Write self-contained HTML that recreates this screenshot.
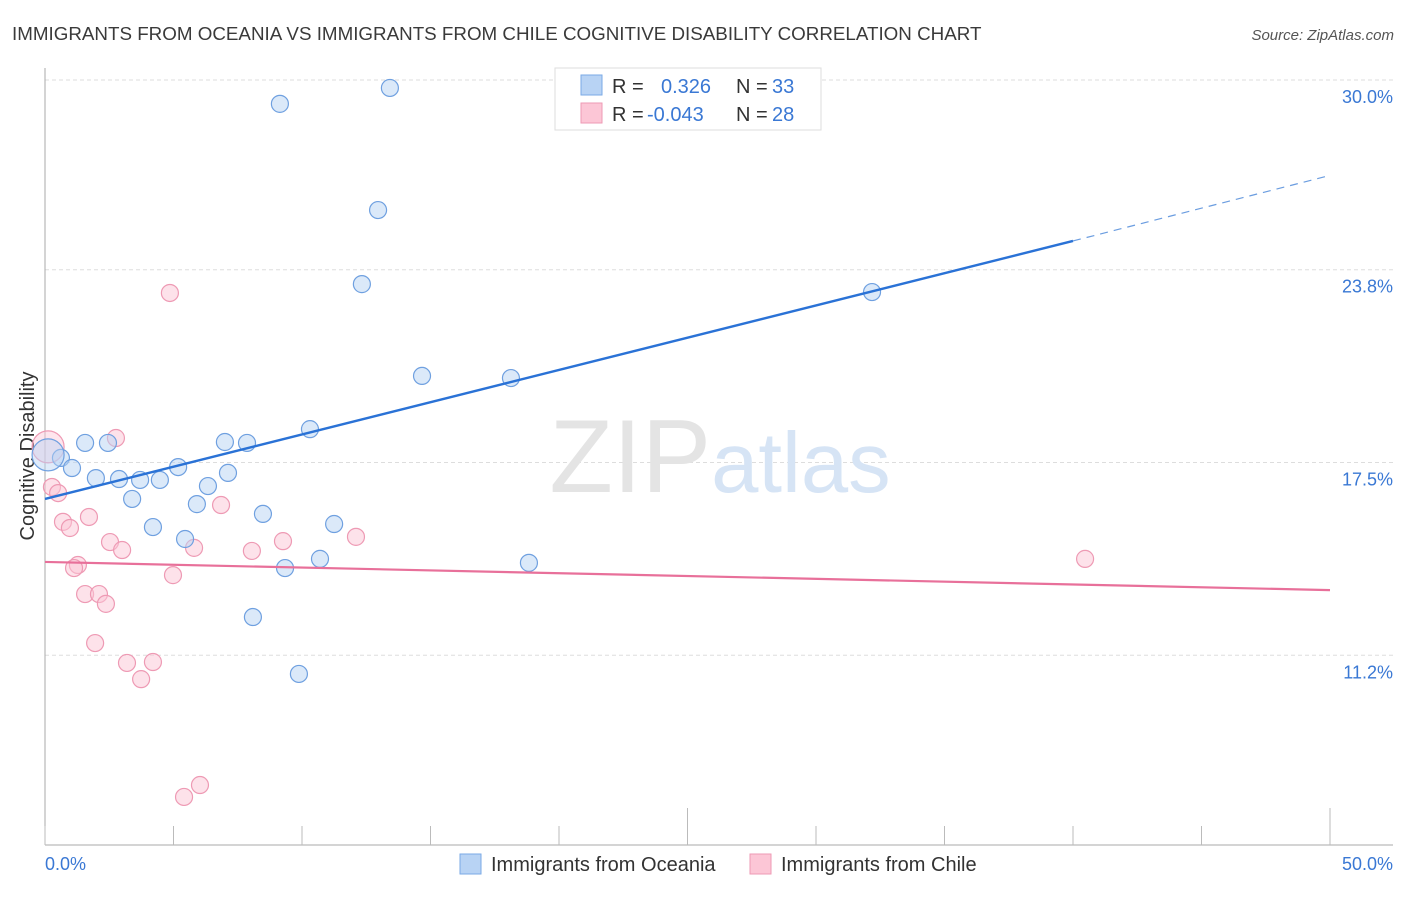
<!DOCTYPE html>
<html><head><meta charset="utf-8"><style>
body{margin:0;background:#fff;font-family:"Liberation Sans",sans-serif}
svg text{font-family:"Liberation Sans",sans-serif}
</style></head><body>
<svg width="1406" height="892" xmlns="http://www.w3.org/2000/svg">
<text x="12" y="40" font-size="18.8" fill="#3a3a3a">IMMIGRANTS FROM OCEANIA VS IMMIGRANTS FROM CHILE COGNITIVE DISABILITY CORRELATION CHART</text>
<text x="1394" y="40" font-size="15" fill="#555" font-style="italic" text-anchor="end">Source: ZipAtlas.com</text>
<g id="grid"></g>
<text x="720" y="492" font-size="104" text-anchor="middle" fill="#e4e4e4" font-family="Liberation Serif">ZIP<tspan fill="#d6e4f5" font-family="Liberation Sans" font-size="85">atlas</tspan></text>
<text transform="translate(34,456) rotate(-90)" font-size="20" fill="#333" text-anchor="middle">Cognitive Disability</text>
<g id="marks"></g>
<g>
<rect x="555" y="68" width="266" height="62" fill="#fff" stroke="#ddd"/>
<rect x="581" y="75" width="21" height="20" fill="#b8d3f4" stroke="#7aa9e6"/>
<rect x="581" y="103" width="21" height="20" fill="#fcc6d6" stroke="#ee9ab4"/>
<text x="612" y="93" font-size="20" fill="#333">R =</text>
<text x="661" y="93" font-size="20" fill="#3a78d4">0.326</text>
<text x="736" y="93" font-size="20" fill="#333">N =</text>
<text x="772" y="93" font-size="20" fill="#3a78d4">33</text>
<text x="612" y="121" font-size="20" fill="#333">R =</text>
<text x="647" y="121" font-size="20" fill="#3a78d4">-0.043</text>
<text x="736" y="121" font-size="20" fill="#333">N =</text>
<text x="772" y="121" font-size="20" fill="#3a78d4">28</text>
</g>
<g>
<rect x="460" y="854" width="21" height="20" fill="#b8d3f4" stroke="#7aa9e6"/>
<text x="491" y="871" font-size="20" fill="#333">Immigrants from Oceania</text>
<rect x="750" y="854" width="21" height="20" fill="#fcc6d6" stroke="#ee9ab4"/>
<text x="781" y="871" font-size="20" fill="#333">Immigrants from Chile</text>
</g>
</svg>
<script>
const yTicks=[30.0,23.8,17.5,11.2];
const yTickLabels=["30.0%","23.8%","17.5%","11.2%"];
const xTicks=[0,5,10,15,20,25,30,35,40,45,50];
const oceaniaX=[9.14,13.42,12.96,12.33,32.18,14.67,18.13,10.31,7.00,7.86,1.56,2.45,0.62,1.05,5.18,7.12,1.98,2.88,3.70,4.47,6.34,3.39,5.91,8.48,4.20,11.25,5.45,9.34,10.70,18.83,8.09,9.88,0.12];
const oceaniaY=[29.22,29.74,25.75,23.33,23.07,20.33,20.26,18.59,18.17,18.14,18.14,18.14,17.65,17.32,17.35,17.16,16.99,16.96,16.93,16.93,16.73,16.31,16.14,15.82,15.39,15.49,15.00,14.05,14.35,14.22,12.45,10.59,17.75];
const chileX=[4.86,2.76,0.12,0.27,0.51,1.71,0.70,0.97,6.85,2.53,3.00,5.80,8.05,9.26,12.10,1.28,1.13,4.98,1.56,2.10,2.37,1.95,3.19,4.20,3.74,6.03,5.41,40.47];
const chileY=[23.04,18.30,18.01,16.70,16.50,15.72,15.56,15.36,16.11,14.90,14.64,14.71,14.61,14.93,15.07,14.15,14.05,13.82,13.20,13.20,12.88,11.60,10.95,10.98,10.42,6.96,6.57,14.35];
const oceaniaTrend=[16.31,24.74,26.86];
const chileTrend=[14.25,13.33];
const NS="http://www.w3.org/2000/svg";
const sx=v=>45+v*25.7, sy=v=>80+(30-v)*30.6;
function mk(t,a,p){const e=document.createElementNS(NS,t);for(const k in a)e.setAttribute(k,a[k]);p.appendChild(e);return e;}
const grid=document.getElementById('grid'),marks=document.getElementById('marks');
yTicks.forEach((v,i)=>{
 const l=mk('line',{x1:45,x2:1393,y1:sy(v),y2:sy(v),stroke:'#ddd','stroke-dasharray':'4,3'},grid);
 
 
 const t=mk('text',{x:1393,y:sy(v)+23,'font-size':18,fill:'#3a78d4','text-anchor':'end'},grid);
 t.textContent=yTickLabels[i];
 
 
});
const ya=mk('line',{x1:45,x2:45,y1:68,y2:845,stroke:'#aaa'},grid);


const xa=mk('line',{x1:45,x2:1393,y1:845,y2:845,stroke:'#aaa'},grid);


xTicks.forEach((v,i)=>{
 const tall=(i==5||i==10);
 const l=mk('line',{x1:sx(v),x2:sx(v),y1:tall?808:826,y2:845,stroke:'#bbb'},grid);
 
 
});
[[0,"0.0%","start"],[50,"50.0%","end"]].forEach(d=>{
 const t=mk('text',{x:d[0]==0?45:1393,y:870,'font-size':18,fill:'#3a78d4','text-anchor':d[2]},grid);
 t.textContent=d[1];
 
 
});
function pts(X,Y,fill,stroke,name){
 X.forEach((x,i)=>{
  const big=(x<0.2);
  const c=mk('circle',{cx:sx(x),cy:sy(Y[i]),r:big?16:8.5,fill:fill,'fill-opacity':big?0.45:0.5,stroke:stroke,'stroke-width':1.2},marks);
  
  
 });
}
pts(chileX,chileY,'#fcc6d6','#ee9ab4','chile-point');
pts(oceaniaX,oceaniaY,'#b8d3f4','#6fa0e0','oceania-point');
let l=mk('line',{x1:sx(0),y1:sy(chileTrend[0]),x2:sx(50),y2:sy(chileTrend[1]),stroke:'#e8709a','stroke-width':2.2},marks);


l=mk('line',{x1:sx(0),y1:sy(oceaniaTrend[0]),x2:sx(40),y2:sy(oceaniaTrend[1]),stroke:'#2a72d6','stroke-width':2.4},marks);


l=mk('line',{x1:sx(40),y1:sy(oceaniaTrend[1]),x2:sx(49.9),y2:sy(oceaniaTrend[2]),stroke:'#6b9de0','stroke-width':1.2,'stroke-dasharray':'8,6'},marks);


</script>
</body></html>
